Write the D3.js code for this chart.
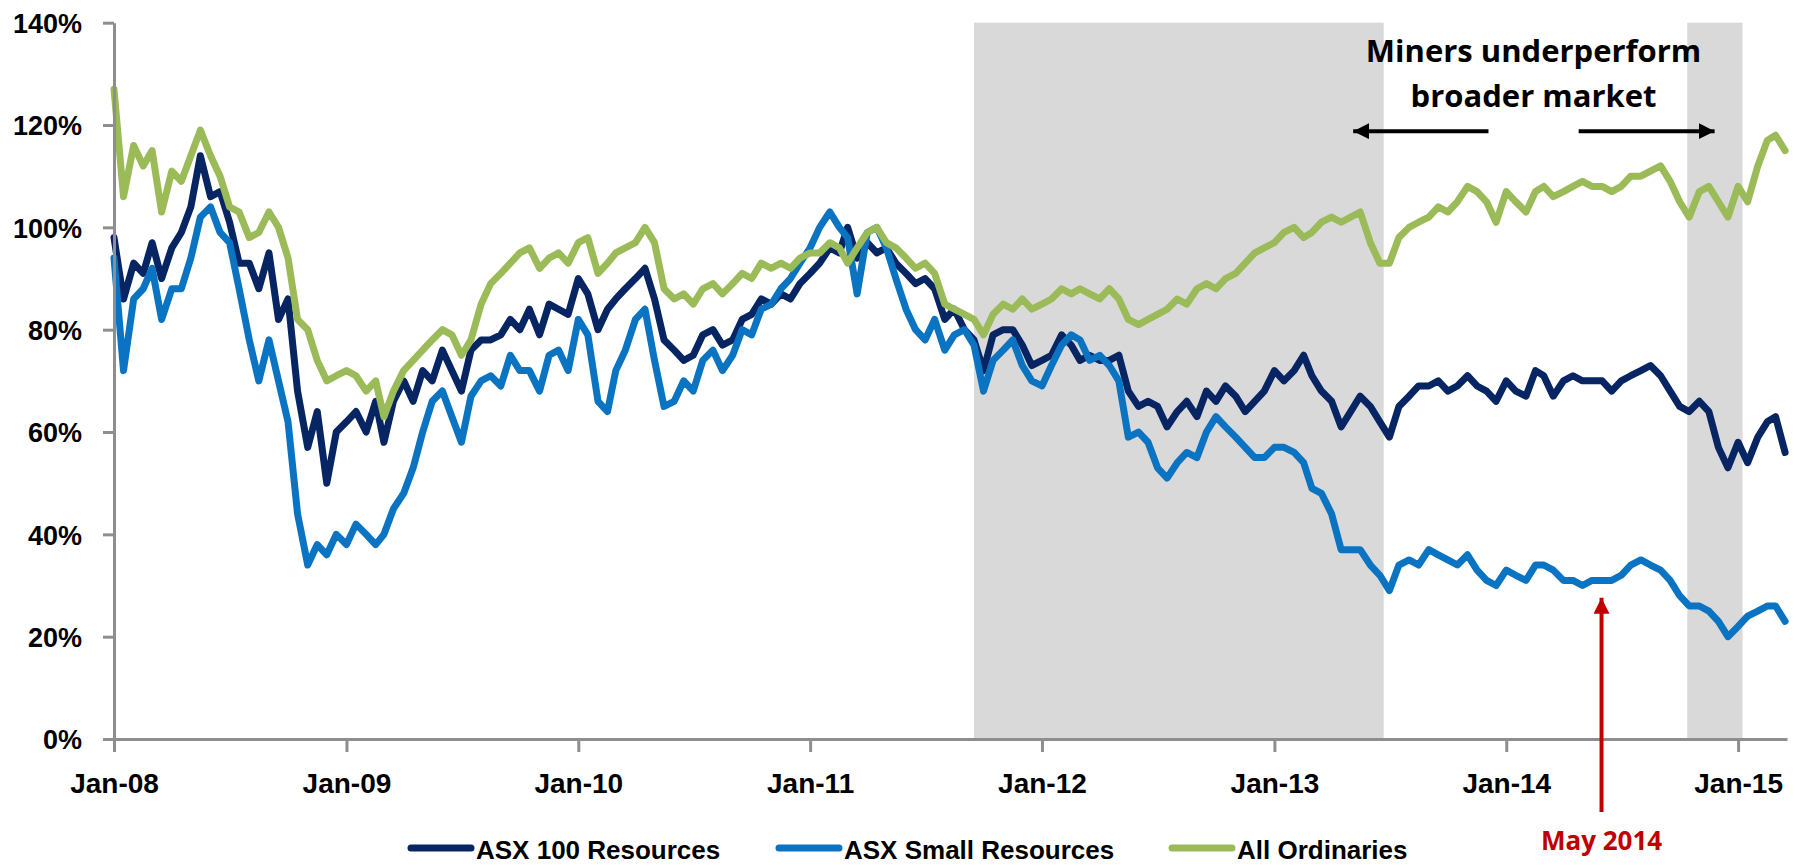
<!DOCTYPE html>
<html><head><meta charset="utf-8">
<script src="https://cdn.jsdelivr.net/npm/d3@7"></script>
<style>
body{margin:0;background:#fff}
svg text{font-family:"Liberation Sans",Arial,sans-serif;font-weight:bold;fill:#000}
</style>
</head><body>
<svg id="chart" width="1798" height="866"></svg>
<script>
// ---- data (semi-monthly readings, % of Jan-2008 level) ----
const startYear = 2008, pointsCount = 174; // 1st and 16th of each month, Jan-2008 .. Mar-2015
const seriesNames = ["ASX 100 Resources", "ASX Small Resources", "All Ordinaries"];
const seriesColors = ["#072463", "#0A74C2", "#9BBB59"];
const asx100 = [
  98,86,93,91,97,90,96,99,104,114,
  106,107,101,93,93,88,95,82,86,68,
  57,64,50,60,62,64,60,66,58,66,
  70,66,72,70,76,72,68,76,78,78,
  79,82,80,84,79,85,84,83,90,87,
  80,84,86,88,90,92,86,78,76,74,
  75,79,80,77,78,82,83,86,85,87,
  86,89,91,93,96,95,100,94,97,95,
  96,93,91,89,90,88,82,84,80,78,
  72,79,80,80,77,73,74,75,79,77,
  74,75,74,74,75,68,65,66,65,61,
  64,66,63,68,66,69,67,64,66,68,
  72,70,72,75,71,68,66,61,64,67,
  65,62,59,65,67,69,69,70,68,69,
  71,69,68,66,70,68,67,72,71,67,
  70,71,70,70,70,68,70,71,72,73,
  71,68,65,64,66,64,57,53,58,54,
  59,62,63,56];
const asxSmall = [
  94,72,86,88,92,82,88,88,94,102,
  104,99,97,88,78,70,78,70,62,44,
  34,38,36,40,38,42,40,38,40,45,
  48,53,60,66,68,63,58,67,70,71,
  69,75,72,72,68,75,76,72,82,79,
  66,64,72,76,82,84,74,65,66,70,
  68,74,76,72,75,80,79,84,85,88,
  90,93,96,100,103,100,98,87,99,100,
  96,90,84,80,78,82,76,79,80,77,
  68,74,76,78,73,70,69,73,77,79,
  78,74,75,73,70,59,60,58,53,51,
  54,56,55,60,63,61,59,57,55,55,
  57,57,56,54,49,48,44,37,37,37,
  34,32,29,34,35,34,37,36,35,34,
  36,33,31,30,33,32,31,34,34,33,
  31,31,30,31,31,31,32,34,35,34,
  33,31,28,26,26,25,23,20,22,24,
  25,26,26,23];
const allOrds = [
  127,106,116,112,115,103,111,109,114,119,
  114,110,104,103,98,99,103,100,94,82,
  80,74,70,71,72,71,68,70,63,68,
  72,74,76,78,80,79,75,78,85,89,
  91,93,95,96,92,94,95,93,97,98,
  91,93,95,96,97,100,97,88,86,87,
  85,88,89,87,89,91,90,93,92,93,
  92,94,95,95,97,96,93,96,99,100,
  97,96,94,92,93,91,85,84,83,82,
  79,83,85,84,86,84,85,86,88,87,
  88,87,86,88,86,82,81,82,83,84,
  86,85,88,89,88,90,91,93,95,96,
  97,99,100,98,99,101,102,101,102,103,
  97,93,93,98,100,101,102,104,103,105,
  108,107,105,101,107,105,103,107,108,106,
  107,108,109,108,108,107,108,110,110,111,
  112,109,105,102,107,108,105,102,108,105,
  112,117,118,115];
const shadedPeriods = [["2011-09-16", "2013-06-22"], ["2014-10-13", "2015-01-08"]];
const yTicks = [0, 20, 40, 60, 80, 100, 120, 140];
const xDomain = ["2008-01-01", "2015-03-19"];
const calloutText = ["Miners underperform", "broader market"];
const markerDate = "2014-05-31", markerLabel = "May 2014";

// ---- build ----
const parse = d3.utcParse("%Y-%m-%d");
const dates = d3.range(pointsCount).map(k => new Date(Date.UTC(startYear, Math.floor(k / 2), k % 2 ? 16 : 1)));
const series = [asx100, asxSmall, allOrds];

const svg = d3.select("#chart");
const plot = {left: 114, right: 1787, top: 22.7, bottom: 739};
const x = d3.scaleUtc().domain(xDomain.map(parse)).range([plot.left, plot.right]);
const y = d3.scaleLinear().domain([0, 140]).range([plot.bottom, plot.top]);

// shaded periods
svg.append("g").selectAll("rect").data(shadedPeriods).join("rect")
  .attr("x", d => x(parse(d[0])))
  .attr("width", d => x(parse(d[1])) - x(parse(d[0])))
  .attr("y", y(140)).attr("height", y(0) - y(140))
  .attr("fill", "#D9D9D9");

// lines
const line = d3.line().x((d, i) => x(dates[i])).y(d => y(d)).curve(d3.curveLinear);
svg.append("g").selectAll("path").data(series).join("path")
  .attr("d", d => line(d))
  .attr("fill", "none")
  .attr("stroke", (d, i) => seriesColors[i])
  .attr("stroke-width", 7)
  .attr("stroke-linejoin", "round")
  .attr("stroke-linecap", "round");

// axes
const axisColor = "#8E8E8E";
const yAxis = svg.append("g").attr("transform", `translate(${plot.left},0)`)
  .call(d3.axisLeft(y).tickValues(yTicks).tickSize(11).tickSizeOuter(0).tickPadding(21).tickFormat(d => d + "%"));
yAxis.selectAll("text").style("font-size", "27px").attr("dy", "0.36em");
const xAxis = svg.append("g").attr("transform", `translate(0,${plot.bottom})`)
  .call(d3.axisBottom(x).ticks(d3.utcYear.every(1)).tickSize(13).tickSizeOuter(0).tickFormat(d3.utcFormat("%b-%y")));
xAxis.selectAll("text").style("font-size", "28px").attr("y", 54).attr("dy", 0);
svg.selectAll(".domain, .tick line").attr("stroke", axisColor).attr("stroke-width", 3);

// callout text + arrows
const callX = x(parse("2014-02-13"));
svg.append("g").selectAll("text").data(calloutText).join("text")
  .attr("x", callX).attr("y", (d, i) => y(i ? 123.5 : 132.3))
  .attr("text-anchor", "middle")
  .style("font-family", "'Open Sans', Lato, sans-serif").style("font-size", "31px")
  .text(d => d);

const defs = svg.append("defs");
function marker(id, color) {
  defs.append("marker").attr("id", id).attr("viewBox", "0 0 10 10")
    .attr("refX", 10).attr("refY", 5).attr("markerWidth", 4).attr("markerHeight", 4)
    .attr("markerUnits", "strokeWidth").attr("orient", "auto")
    .append("path").attr("d", "M0,0 L10,5 L0,10 Z").attr("fill", color);
}
marker("arrBlack", "#000");
marker("arrRed", "#C00000");
const arrowY = y(118.8);
const arrows = [["2013-12-04", "2013-05-05"], ["2014-04-25", "2014-11-25"]];
svg.append("g").selectAll("line").data(arrows).join("line")
  .attr("x1", d => x(parse(d[0]))).attr("x2", d => x(parse(d[1])))
  .attr("y1", arrowY).attr("y2", arrowY)
  .attr("stroke", "#000").attr("stroke-width", 4)
  .attr("marker-end", "url(#arrBlack)");

// May 2014 marker
const mx = x(parse(markerDate));
svg.append("line").attr("x1", mx).attr("x2", mx).attr("y1", 812).attr("y2", y(27.6))
  .attr("stroke", "#C00000").attr("stroke-width", 4).attr("marker-end", "url(#arrRed)");
svg.append("text").attr("x", mx).attr("y", 850).attr("text-anchor", "middle")
  .style("font-family", "'Open Sans', Lato, sans-serif").style("font-size", "26px")
  .style("fill", "#C00000").text(markerLabel);

// legend
const legendX = [408, 776, 1169];
const lg = svg.append("g").selectAll("g").data(seriesNames).join("g")
  .attr("transform", (d, i) => `translate(${legendX[i]},848)`);
lg.append("line").attr("x1", 3).attr("x2", 63).attr("y1", 0).attr("y2", 0)
  .attr("stroke", (d, i) => seriesColors[i]).attr("stroke-width", 7).attr("stroke-linecap", "round");
lg.append("text").attr("x", 68).attr("y", 11).style("font-size", "26px").text(d => d);
</script>
</body></html>
